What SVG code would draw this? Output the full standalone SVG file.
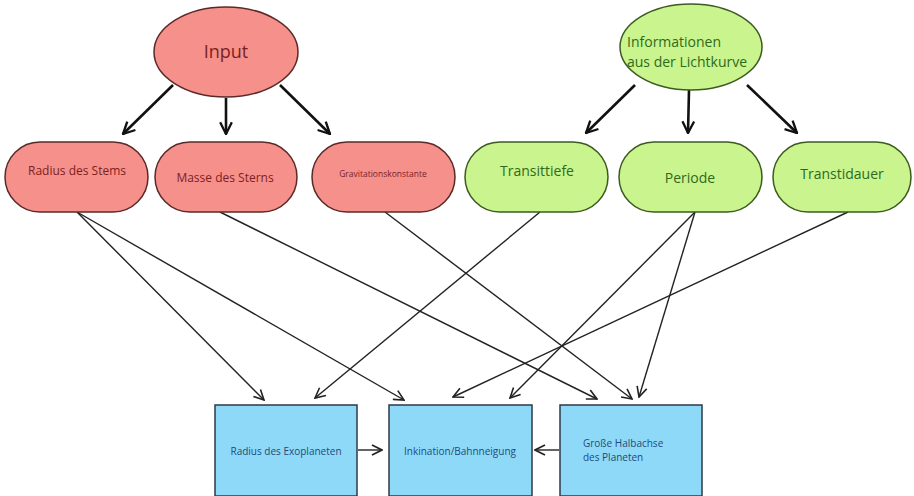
<svg xmlns="http://www.w3.org/2000/svg" width="914" height="496" viewBox="0 0 914 496">
<defs>
<marker id="v" viewBox="0 0 12 12" refX="11" refY="6" markerWidth="12" markerHeight="12" markerUnits="userSpaceOnUse" orient="auto">
<path d="M1,1 L11,6 L1,11" fill="none" stroke="#222" stroke-width="1.6"/>
</marker>
<marker id="vb" viewBox="0 0 12 12" refX="11" refY="6" markerWidth="14" markerHeight="14" markerUnits="userSpaceOnUse" orient="auto">
<path d="M1,1 L11,6 L1,11" fill="none" stroke="#111" stroke-width="2"/>
</marker>
</defs>
<style>
text{font-family:"Open Sans","Noto Sans",sans-serif;}
.red{fill:#f6908b;stroke:#5a2a28;stroke-width:1.5;}
.grn{fill:#c9f48e;stroke:#3d5a20;stroke-width:1.5;}
.blu{fill:#8fd9f8;stroke:#2b3a44;stroke-width:1.5;}
.tr{fill:#7a2222;text-anchor:middle;dominant-baseline:central;}
.tg{fill:#2f6a1c;text-anchor:middle;dominant-baseline:central;}
.tb{fill:#1f4a78;text-anchor:middle;dominant-baseline:central;font-size:10px;}
.thin{stroke:#222;stroke-width:1.4;fill:none;marker-end:url(#v);}
.thick{stroke:#111;stroke-width:2.6;fill:none;marker-end:url(#vb);}
</style>
<rect width="914" height="496" fill="#ffffff"/>
<g id="connectors">
<line class="thick" x1="173" y1="85" x2="123" y2="134"/>
<line class="thick" x1="226" y1="98" x2="226" y2="134"/>
<line class="thick" x1="280" y1="85" x2="330" y2="134"/>
<line class="thick" x1="635" y1="85" x2="586" y2="133"/>
<line class="thick" x1="689" y1="90" x2="688" y2="133"/>
<line class="thick" x1="747" y1="85" x2="797" y2="133"/>
<line class="thin" x1="77" y1="212" x2="264" y2="400"/>
<line class="thin" x1="77" y1="212" x2="404" y2="400"/>
<line class="thin" x1="220" y1="212" x2="597" y2="399"/>
<line class="thin" x1="385" y1="212" x2="632" y2="399"/>
<line class="thin" x1="540" y1="212" x2="315" y2="398"/>
<line class="thin" x1="695" y1="212" x2="510" y2="398"/>
<line class="thin" x1="695" y1="212" x2="639" y2="397"/>
<line class="thin" x1="848" y1="212" x2="453" y2="397"/>
<line class="thin" x1="358" y1="450" x2="382" y2="450"/>
<line class="thin" x1="559" y1="450" x2="535" y2="450"/>
</g>
<g id="input">
<ellipse class="red" cx="226" cy="52" rx="72" ry="45"/>
<text class="tr" x="226" y="51" font-size="18">Input</text>
</g>
<g id="info">
<ellipse class="grn" cx="691" cy="47" rx="71" ry="43"/>
<text x="627" y="47" fill="#2f6a1c" font-size="14">Informationen</text>
<text x="627" y="67" fill="#2f6a1c" font-size="14">aus der Lichtkurve</text>
</g>
<g id="radius-stern">
<rect class="red" x="5" y="142" width="143" height="70" rx="35"/>
<text class="tr" x="77" y="170" font-size="12">Radius des Stems</text>
</g>
<g id="masse">
<rect class="red" x="155" y="142" width="142" height="70" rx="35"/>
<text class="tr" x="225" y="177" font-size="12">Masse des Sterns</text>
</g>
<g id="gravitation">
<rect class="red" x="312" y="142" width="143" height="70" rx="35"/>
<text class="tr" x="383" y="173" font-size="8.5">Gravitationskonstante</text>
</g>
<g id="transittiefe">
<rect class="grn" x="465" y="142" width="143" height="70" rx="35"/>
<text class="tg" x="537" y="170" font-size="14">Transittiefe</text>
</g>
<g id="periode">
<rect class="grn" x="619" y="142" width="143" height="70" rx="35"/>
<text class="tg" x="690" y="177" font-size="14">Periode</text>
</g>
<g id="transitdauer">
<rect class="grn" x="773" y="142" width="138" height="70" rx="35"/>
<text class="tg" x="842" y="173" font-size="14">Transtidauer</text>
</g>
<g id="radius-exo">
<rect class="blu" x="215" y="405" width="142" height="91"/>
<text class="tb" x="286" y="451">Radius des Exoplaneten</text>
</g>
<g id="inklination">
<rect class="blu" x="389" y="405" width="143" height="91"/>
<text class="tb" x="460" y="451">Inkination/Bahnneigung</text>
</g>
<g id="halbachse">
<rect class="blu" x="560" y="405" width="142" height="91"/>
<text x="583" y="447" fill="#1f4a78" font-size="10">Große Halbachse</text>
<text x="583" y="461" fill="#1f4a78" font-size="10">des Planeten</text>
</g>
</svg>
